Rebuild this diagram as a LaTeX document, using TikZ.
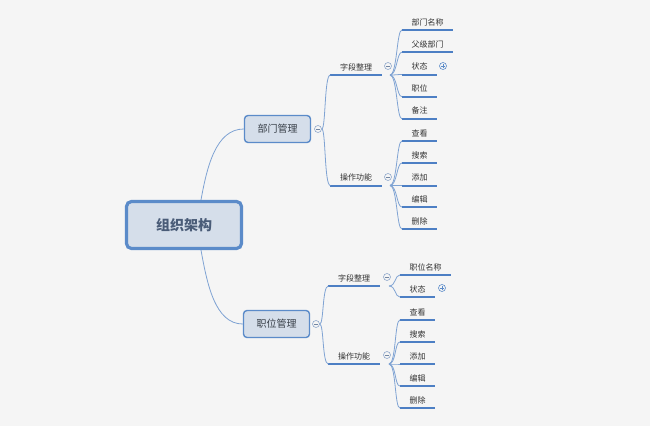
\documentclass[tikz,border=0pt]{standalone}
\usepackage{fontspec}
\newfontfamily\cjk{Noto Sans CJK SC}
\definecolor{bg}{HTML}{F5F5F5}
\definecolor{boxfill}{HTML}{D5DEEA}
\definecolor{boxline}{HTML}{5B8BC9}
\definecolor{uline}{HTML}{4D7FC4}
\definecolor{conn}{HTML}{7FA3D3}
\definecolor{txt}{HTML}{333333}
\definecolor{roottxt}{HTML}{4A5C78}
\definecolor{circ}{HTML}{8FA8CC}
\tikzset{
  rootbox/.style={draw=boxline, line width=3.2pt, fill=boxfill, rounded corners=5pt,
    minimum width=115pt, minimum height=47pt, text=roottxt,
    font=\cjk\bfseries\fontsize{14}{16}\selectfont},
  mainbox/.style={draw=boxline, line width=1.4pt, fill=boxfill, rounded corners=3.5pt,
    minimum width=66pt, minimum height=27pt, text=txt!85!boxline,
    font=\cjk\fontsize{10}{12}\selectfont},
  leaf/.style={anchor=south, inner xsep=0pt, inner ysep=4pt, text height=6.8pt,
    text depth=0.8pt, text=txt, font=\cjk\fontsize{8}{9}\selectfont},
  wide/.style={minimum width=51pt},
  narrow/.style={minimum width=35pt},
  ul/.style={draw=uline, line width=2pt},
  cn/.style={draw=conn, line width=0.8pt},
  tog/.style={circle, draw=circ, line width=0.6pt, fill=bg, minimum size=7pt, inner sep=0pt,
    path picture={\draw[circ!80!black, line width=0.6pt] ([xshift=-1.8pt]path picture bounding box.center) -- ([xshift=1.8pt]path picture bounding box.center);}},
  togp/.style={circle, draw=boxline, line width=0.6pt, fill=bg, minimum size=7pt, inner sep=0pt,
    path picture={\draw[boxline, line width=0.6pt] ([xshift=-1.6pt]path picture bounding box.center) -- ([xshift=1.6pt]path picture bounding box.center) ([yshift=-1.6pt]path picture bounding box.center) -- ([yshift=1.6pt]path picture bounding box.center);}},
}
\begin{document}
\begin{tikzpicture}[x=1pt,y=-1pt]
\fill[bg] (0,0) rectangle (650,426);
\useasboundingbox (0,0) rectangle (650,426);

% root and level 1
\node[rootbox] (root) at (184,225) {组织架构};
\node[mainbox] (d1) at (277.5,129) {部门管理};
\node[mainbox] (d2) at (276.5,324) {职位管理};
\node[tog] (c1) at (318,129) {};
\node[tog] (c2) at (316,324) {};
\coordinate (rt) at ([xshift=17pt]root.north);
\coordinate (rb) at ([xshift=17pt]root.south);
\draw[cn] (rt) .. controls +(6,-33) and +(-28,0) .. (d1.west);
\draw[cn] (rb) .. controls +(6,33) and +(-28,0) .. (d2.west);

% level 2
\node[leaf, wide] (f1) at (356,75) {字段整理};
\node[leaf, wide] (o1) at (356,185.5) {操作功能};
\node[leaf, wide] (f2) at (354,286) {字段整理};
\node[leaf, wide] (o2) at (354,364) {操作功能};
\foreach \n in {f1,o1,f2,o2} \draw[ul] (\n.south west) -- (\n.south east);
\node[tog] (cf1) at (388,66) {};
\node[tog] (co1) at (388,177) {};
\node[tog] (cf2) at (387,277) {};
\node[tog] (co2) at (387,355) {};
\foreach \p/\n in {c1/f1,c1/o1,c2/f2,c2/o2}
  \draw[cn] (\p.east) .. controls +(4,0) and +(-6,0) .. (\n.south west);

% leaves: 部门管理 / 字段整理
\node[leaf, wide]   (a1) at (427.5,30)    {部门名称};
\node[leaf, wide]   (a2) at (427.5,52.2)  {父级部门};
\node[leaf, narrow] (a3) at (419.5,74.5)  {状态};
\node[leaf, narrow] (a4) at (419.5,96.6)  {职位};
\node[leaf, narrow] (a5) at (419.5,118.8) {备注};
\node[togp] (pa) at (443,66) {};
% leaves: 部门管理 / 操作功能
\node[leaf, narrow] (b1) at (419.5,141) {查看};
\node[leaf, narrow] (b2) at (419.5,163) {搜索};
\node[leaf, narrow] (b3) at (419.5,185.5) {添加};
\node[leaf, narrow] (b4) at (419.5,207) {编辑};
\node[leaf, narrow] (b5) at (419.5,229) {删除};
% leaves: 职位管理 / 字段整理
\node[leaf, wide]   (e1) at (425.5,275) {职位名称};
\node[leaf, narrow] (e2) at (417.5,297) {状态};
\node[togp] (pe) at (442,288) {};
% leaves: 职位管理 / 操作功能
\node[leaf, narrow] (g1) at (417.5,320) {查看};
\node[leaf, narrow] (g2) at (417.5,342) {搜索};
\node[leaf, narrow] (g3) at (417.5,364) {添加};
\node[leaf, narrow] (g4) at (417.5,386) {编辑};
\node[leaf, narrow] (g5) at (417.5,408) {删除};

\foreach \n in {a1,a2,a3,a4,a5,b1,b2,b3,b4,b5,e1,e2,g1,g2,g3,g4,g5}
  \draw[ul] (\n.south west) -- (\n.south east);

\coordinate (sf1) at ([xshift=2pt]cf1 |- f1.south);
\coordinate (so1) at ([xshift=2pt]co1 |- o1.south);
\coordinate (sf2) at ([xshift=2pt]cf2 |- f2.south);
\coordinate (so2) at ([xshift=2pt]co2 |- o2.south);
\foreach \s/\n in {sf1/a1,sf1/a2,sf1/a3,sf1/a4,sf1/a5,so1/b1,so1/b2,so1/b3,so1/b4,so1/b5,sf2/e1,sf2/e2,so2/g1,so2/g2,so2/g3,so2/g4,so2/g5}
  \draw[cn] (\s) .. controls +(7,0) and +(-5,0) .. (\n.south west);
\end{tikzpicture}
\end{document}
